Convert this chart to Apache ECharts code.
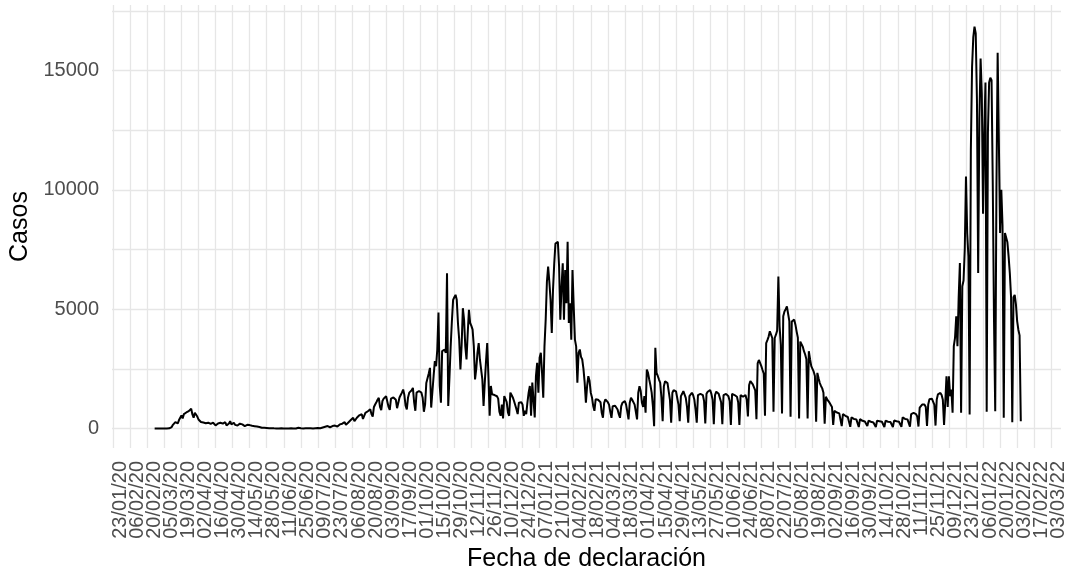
<!DOCTYPE html>
<html><head><meta charset="utf-8">
<script src="https://cdn.jsdelivr.net/npm/echarts@6/dist/echarts.min.js"></script>
<style>html,body{margin:0;padding:0;background:#fff}#c{width:1066px;height:571px}</style>
</head><body><div id="c"></div>
<script>
// x categories: one per day
const firstCategory = '2020-01-22';
const categoryCount = 780;
// daily cases start on this date (Monday), 7 values per row = one week
const casesStart = '2020-02-24';
const tickLabels = ['23/01/20','06/02/20','20/02/20','05/03/20','19/03/20','02/04/20','16/04/20','30/04/20','14/05/20','28/05/20','11/06/20','25/06/20','09/07/20','23/07/20','06/08/20','20/08/20','03/09/20','17/09/20','01/10/20','15/10/20','29/10/20','12/11/20','26/11/20','10/12/20','24/12/20','07/01/21','21/01/21','04/02/21','18/02/21','04/03/21','18/03/21','01/04/21','15/04/21','29/04/21','13/05/21','27/05/21','10/06/21','24/06/21','08/07/21','22/07/21','05/08/21','19/08/21','02/09/21','16/09/21','30/09/21','14/10/21','28/10/21','11/11/21','25/11/21','09/12/21','23/12/21','06/01/22','20/01/22','03/02/22','17/02/22','03/03/22'];
const yLabelValues = [0, 5000, 10000, 15000];
const yGridValues = [0, 2500, 5000, 7500, 10000, 12500, 15000, 17500];
const cases = [
null,null,0,0,0,0,0,
0,0,1,2,3,2,3,
5,10,60,150,210,265,230,
210,350,400,545,420,600,680,
670,700,725,796,825,587,448,
657,580,500,377,300,270,240,
250,260,220,230,240,200,190,
200,240,220,125,180,210,230,
240,220,200,230,260,125,180,
210,306,170,200,240,150,130,
125,160,200,180,170,120,100,
170,150,125,140,170,110,90,
96,90,80,70,60,40,30,
30,25,20,15,10,5,5,
5,3,3,2,2,0,0,
2,3,2,2,3,1,0,
2,2,3,2,2,0,0,
3,30,3,4,2,1,0,
3,4,5,6,5,2,1,
5,8,10,15,20,10,8,
40,60,70,80,100,60,50,
90,100,110,120,130,80,70,
170,180,200,220,265,150,120,
250,300,350,400,450,300,250,
450,515,550,580,600,400,350,
650,680,720,767,800,600,500,
900,1005,1100,1200,1285,900,767,
1150,1250,1300,1350,1300,900,780,
1250,1300,1300,1250,1200,850,770,
1300,1400,1500,1630,1400,950,800,
1300,1500,1550,1600,1700,1100,740,
1500,1550,1570,1600,1500,1290,700,
1000,1900,2100,2300,2540,875,945,
2200,2820,2610,3300,4860,1800,1080,
3240,3170,3300,3170,6500,945,2125,
3440,4500,5390,5500,5600,5390,4400,
3720,2470,3500,5040,4560,3440,2890,
4000,4970,4420,4300,4140,3440,2055,
2500,3170,3580,2890,2890,2055,945,
1920,2800,3580,2190,530,1780,1430,
1500,1400,1430,1350,1250,700,530,
1000,420,1360,1300,1100,670,530,
1500,1400,1300,1150,1100,805,600,
1080,1150,1100,1000,530,740,600,
1080,1500,1780,530,1920,1200,460,
2190,2750,1500,2960,3170,2330,1290,
3440,4560,6150,6780,6150,5390,4000,
5800,6900,7750,7820,7820,6780,4560,
5940,6920,4560,6640,5250,7820,4420,
5250,3720,6640,5110,3720,3440,1920,
3170,3310,3000,2890,2500,1920,1080,
1780,2190,2000,1500,1300,945,740,
1220,1215,1200,1145,1100,657,447,
1075,1215,1150,1100,1000,700,447,
935,1005,950,900,796,600,447,
935,1075,1100,1145,1000,700,377,
1075,1285,1200,1145,1000,700,377,
1500,1770,1565,1075,900,1355,657,
2470,2330,2050,1800,1500,935,96,
3380,2330,2200,2050,1915,1300,306,
1770,1980,1950,1900,1845,1200,240,
1495,1600,1635,1550,1495,1000,306,
1355,1450,1565,1500,1285,900,240,
1355,1400,1495,1400,1215,800,240,
1400,1350,1450,1500,1400,1150,210,
1450,1540,1500,1610,1450,1200,180,
1400,1540,1500,1450,1400,1100,180,
1400,1470,1450,1400,1350,1150,150,
1450,1470,1400,1400,1330,1100,150,
1400,1350,1330,1260,1400,1200,500,
1820,1990,1950,1850,1900,1600,390,
2730,2870,2800,2610,2450,2300,530,
3580,3700,3850,4070,4060,3790,700,
3790,3930,4100,6370,4280,3500,630,
4700,4900,5000,5110,5050,4500,490,
4480,4550,4560,4350,4060,3800,420,
3640,3650,3430,3240,3100,2900,420,
3240,2900,2610,2590,2380,2200,280,
2330,2100,1900,1780,1680,1500,200,
1330,1220,1200,1080,1050,900,150,
735,700,667,650,630,560,100,
600,560,530,500,480,420,70,
460,430,400,390,380,350,60,
390,350,320,300,290,280,100,
320,300,280,260,250,240,60,
320,310,300,290,280,260,60,
320,300,280,280,270,250,60,
330,320,300,290,280,260,70,
460,430,400,390,380,340,70,
600,620,650,640,600,500,80,
875,950,1000,1080,1000,900,100,
1000,1220,1290,1250,1200,1000,120,
1210,1430,1500,1490,1400,1200,150,
1100,2190,900,2190,1350,1630,655,
3450,3800,4700,3450,5500,6930,655,
5960,6200,7500,10560,8190,7200,585,
11680,15160,16400,16840,16560,13770,6515,
13000,15510,14000,9000,12400,14500,700,
12400,14500,14700,14600,10200,4560,725,
10100,15750,12000,8190,10000,8500,450,
8190,8200,7800,7200,6500,5500,265,
5500,5600,5200,4500,4140,3900,300
];

const DAY = 86400000;
function fmt(t) {
  const d = new Date(t);
  const p = n => String(n).padStart(2, '0');
  return p(d.getUTCDate()) + '/' + p(d.getUTCMonth() + 1) + '/' + String(d.getUTCFullYear()).slice(2);
}
const t0 = Date.parse(firstCategory + 'T00:00:00Z');
const categories = [];
for (let i = 0; i < categoryCount; i++) categories.push(fmt(t0 + i * DAY));
const offset = Math.round((Date.parse(casesStart + 'T00:00:00Z') - t0) / DAY);
const seriesData = categories.map((c, i) => {
  const j = i - offset;
  return (j >= 0 && j < cases.length) ? cases[j] : null;
});
const tickSet = new Set(tickLabels);
const isTick = idx => tickSet.has(categories[idx]);
// first and last categories carry blank placeholder labels (hidden by showMin/MaxLabel:false)
const labelInterval = idx => idx === 0 || idx === categoryCount - 1 || isTick(idx);

const FONT = '"Liberation Sans", Arial, sans-serif';
const chart = echarts.init(document.getElementById('c'), null, { renderer: 'canvas' });
chart.setOption({
  animation: false,
  backgroundColor: '#ffffff',
  grid: { left: 112, right: 5, top: 5, bottom: 123, containLabel: false, outerBoundsMode: 'none' },
  xAxis: {
    type: 'category',
    data: categories,
    boundaryGap: false,
    name: 'Fecha de declaración',
    nameLocation: 'middle',
    nameGap: 92,
    nameTextStyle: { fontFamily: FONT, fontSize: 25, color: '#000' },
    axisLine: { show: false },
    axisTick: { show: false, interval: isTick },
    axisLabel: {
      interval: labelInterval,
      formatter: (v) => tickSet.has(v) ? v : '',
      showMinLabel: false,
      showMaxLabel: false,
      hideOverlap: false,
      rotate: 90,
      margin: 13,
      verticalAlign: 'top',
      lineHeight: 14,
      fontFamily: FONT, fontSize: 20, color: '#4d4d4d'
    },
    splitLine: { show: true, interval: isTick, lineStyle: { color: '#e6e6e6', width: 1.3 } }
  },
  yAxis: {
    type: 'value',
    min: -820,
    max: 17750,
    name: 'Casos',
    nameLocation: 'middle',
    nameGap: 66,
    nameRotate: 90,
    nameTextStyle: { fontFamily: FONT, fontSize: 25, color: '#000' },
    axisLine: { show: false },
    axisTick: { show: false, customValues: yGridValues },
    axisLabel: {
      customValues: yLabelValues,
      formatter: v => String(v),
      margin: 13,
      fontFamily: FONT, fontSize: 20, color: '#4d4d4d'
    },
    splitLine: { show: true, lineStyle: { color: '#e6e6e6', width: 1.3 } }
  },
  series: [{
    type: 'line',
    data: seriesData,
    showSymbol: false,
    connectNulls: false,
    lineStyle: { color: '#000', width: 2 },
    silent: true
  }]
});
</script></body></html>
